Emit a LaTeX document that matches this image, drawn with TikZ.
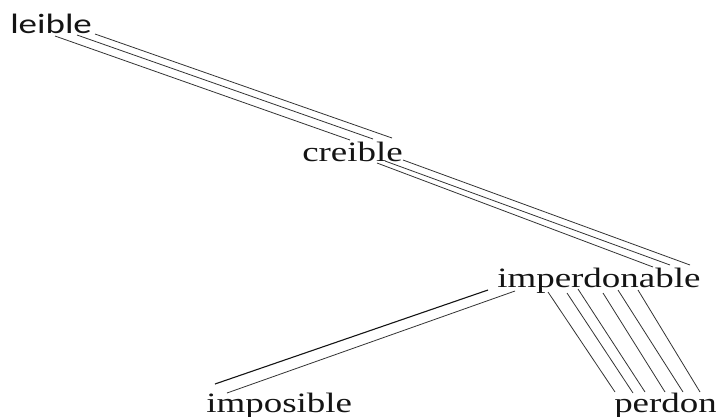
\documentclass[tikz,border=0pt]{standalone}
\usepackage{fontspec}
\setmainfont{Liberation Serif}
\newfontfamily\sanslabel{Carlito}
\usetikzlibrary{calc}
\definecolor{inkgray}{HTML}{333333}
\definecolor{textgray}{HTML}{141414}

\begin{document}
\begin{tikzpicture}[x=1pt, y=-1pt,
  word/.style={inner sep=0pt, anchor=base west, xscale=1.32, text=textgray, font=\fontsize{28}{30}\selectfont},
  link/.style={line width=0.8pt, color=inkgray}]
\useasboundingbox (0,0) rectangle (716,416);
% words
\node[word, font=\sanslabel\fontsize{28}{30}\selectfont] (leible) at (10,33) {leible};
\node[word] (creible) at (302,161) {creible};
\node[word] (imperdonable) at (497,287) {imperdonable};
\node[word] (imposible) at (206,412) {imposible};
\node[word] (perdon) at (614,412) {perdon};
% leible -- creible
\foreach \sx/\sy/\ex/\ey in {45/3/48/-21, 67/2/71/-22, 85/1/90/-23}
  \draw[link] ($(leible.base west)+(\sx,\sy)$) -- ($(creible.base west)+(\ex,\ey)$);
% creible -- imperdonable
\foreach \sx/\sy/\ex/\ey in {75/2/156/-20, 83/0/173/-22, 101/-1/193/-22}
  \draw[link] ($(creible.base west)+(\sx,\sy)$) -- ($(imperdonable.base west)+(\ex,\ey)$);
% imperdonable -- imposible
\draw[link, line width=1.1pt, color=textgray] ($(imperdonable.base west)+(-9,3)$) -- ($(imposible.base west)+(9,-28)$);
\draw[link] ($(imperdonable.base west)+(18,4)$) -- ($(imposible.base west)+(21,-19)$);
% imperdonable -- perdon
\foreach \sx/\sy/\ex/\ey in {51/5/1/-20, 70/6/19/-19, 81/2/31/-20, 106/6/51/-20, 121/3/69/-20, 141/3/86/-20}
  \draw[link] ($(imperdonable.base west)+(\sx,\sy)$) -- ($(perdon.base west)+(\ex,\ey)$);
\end{tikzpicture}
\end{document}
